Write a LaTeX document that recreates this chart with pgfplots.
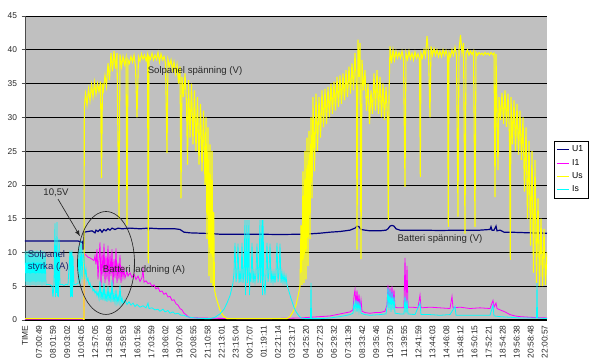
\documentclass[border=0pt]{standalone}
\usepackage{pgfplots}
\pgfplotsset{compat=1.18}
\usepackage{fontspec}
\setmainfont{Liberation Sans}
\definecolor{bgray}{RGB}{192,192,192}
\definecolor{cU}{RGB}{0,0,128}
\definecolor{cI}{RGB}{255,0,255}
\definecolor{cUs}{RGB}{255,255,0}
\definecolor{cIs}{RGB}{0,255,255}
\definecolor{txt}{RGB}{40,40,40}
\definecolor{styrk}{RGB}{30,40,110}
\begin{document}
\begin{tikzpicture}
\useasboundingbox (-18.75pt,-30pt) rectangle (431.25pt,240pt);
\begin{axis}[
 at={(0pt,0pt)}, anchor=south west,
 scale only axis, width=391.5pt, height=228pt,
 xmin=25, xmax=547, ymin=0, ymax=45,
 axis background/.style={fill=bgray},
 axis x line*=bottom, axis y line*=left,
 axis line style={-},
 x axis line style={line width=1.6pt, black},
 y axis line style={black!70, line width=0.5pt},
 ytick={0,5,...,45},
 ymajorgrids, grid style={black, line width=0.5pt},
 xtick={25,39.05,53.1,67.15,81.2,95.25,109.3,123.35,137.4,151.45,165.5,179.55,193.6,207.65,221.7,235.75,249.8,263.85,277.9,291.95,306,320.05,334.1,348.15,362.2,376.25,390.3,404.35,418.4,432.45,446.5,460.55,474.6,488.65,502.7,516.75,530.8,544.85},
 xticklabels={TIME,07:00:49,08:01:59,09:03:02,10:04:05,12:57:05,13:58:09,14:59:53,16:01:56,17:03:59,18:06:02,19:07:06,20:08:55,21:10:58,22:13:01,23:15:04,00:17:07,01:19:11,02:21:14,03:23:17,04:25:20,05:27:23,06:29:32,07:31:39,08:33:42,09:35:46,10:37:50,11:39:55,12:41:59,13:44:03,14:46:08,15:48:12,16:50:15,17:52:21,18:54:28,19:56:38,20:58:48,22:00:57},
 xtick style={draw=none},
 ytick style={black!70, line width=0.5pt},
 tick align=outside, major tick length=2.5pt,
 ticklabel style={font=\fontsize{6.3}{7}\selectfont, text=txt},
 /pgf/number format/assume math mode=true,
 xticklabel style={rotate=90, anchor=east, inner sep=1.5pt},
 legend style={at={(1.0134,0.589)}, anchor=north west, draw=black, fill=white,
   font=\fontsize{6.5}{7.5}\selectfont, inner sep=1.5pt, row sep=0pt,
   /tikz/every even column/.append style={column sep=1pt}},
 legend image code/.code={\draw[#1] (0pt,0pt) -- (9pt,0pt);},
 legend cell align=left,
]
\addplot[cU, line width=0.9pt] coordinates {
(25,11.7) (78,11.7) (80,11.6) (82,11.5) (82.8,11.6) (83,10.4) (83.3,11.8) (83.5,10.5) (84,13.0) (88,13.1) (92,13.2) (95,12.9) (96,13.3) (98,13.1) (100,13.4) (102,13.0) (104,13.4) (106,13.2) (108,13.5) (110,13.3) (112,13.6) (115,13.4) (118,13.6) (122,13.5) (130,13.6) (140,13.5) (148,13.6) (148.5,13.3) (149,13.6) (160,13.5) (175,13.5) (180,13.4) (184,13.0) (190,12.9) (200,12.85) (210,12.8) (220,12.7) (240,12.7) (260,12.7) (280,12.65) (300,12.7) (310,12.75) (320,12.85) (330,13.0) (340,13.1) (350,13.3) (355,13.6) (357,13.9) (359,13.8) (361,13.4) (365,13.3) (370,13.2) (380,13.2) (386,13.3) (388,13.5) (390,13.9) (392,14.0) (394,13.9) (396,13.5) (400,13.3) (420,13.3) (440,13.25) (460,13.3) (480,13.3) (490,13.4) (491,13.8) (492,13.3) (494,13.3) (496,13.9) (497,13.2) (500,13.3) (504,13.0) (510,13.0) (520,12.95) (530,12.9) (547,12.85)
};
\addplot[cI, line width=0.6pt] coordinates {
(25,0.05) (84,0.05) (84.5,9.8) (86,9.6) (88,9.3) (90,9.2) (92,9.0) (94,8.8) (95,9.5) (96,8.2) (97,10.5) (98,6) (99,9) (100,11.5) (101,5) (102,10) (103,6.5) (104,11.3) (105,5.5) (106,9.5) (107,6) (108,11) (109,5.2) (110,9.8) (111,6.5) (112,10.5) (113,5) (114,9) (115,6.2) (116,10.6) (117,5.5) (118,8.5) (119,6) (120,9.6) (121,5.5) (122,8) (123,6.3) (124,7.5) (125,6.2) (127,7.2) (128,6.5) (130,7) (132,6.3) (134,6.8) (136,6) (138,6.5) (140,5.7) (142,6.3) (143,7.5) (144,5.6) (146,5.8) (148,5.4) (150,5.5) (152,5.0) (154,5.2) (156,4.6) (158,4.8) (160,4.2) (162,4.3) (164,3.8) (166,4.0) (168,3.4) (170,3.5) (172,2.9) (174,3.0) (176,2.4) (178,2.2) (180,1.7) (182,1.5) (184,1.0) (186,0.8) (188,0.5) (190,0.35) (200,0.3) (215,0.25) (240,0.2) (270,0.2) (300,0.3) (320,0.5) (330,0.6) (340,0.9) (350,1.2) (353,1.5) (354,3.5) (355,4.5) (356,2) (357,4.4) (358,2) (359,3.8) (360,1.8) (361,3) (362,1.3) (365,1.1) (370,1.0) (375,1.1) (380,1.1) (385,1.3) (387,2.2) (388,5.2) (389,2.3) (390,4.8) (391,2.5) (392,5) (393,2.4) (394,4.5) (395,1.9) (398,1.8) (404,1.8) (405,9.2) (406,2) (407,8) (408,1.9) (412,1.9) (418,1.8) (420,3.7) (421,1.8) (430,1.9) (440,1.8) (450,1.7) (452,3.5) (453,1.8) (460,1.9) (470,1.7) (480,1.8) (490,1.7) (493,2.9) (494,1.9) (496,2.5) (497,1.7) (500,1.5) (505,1.2) (510,0.8) (515,0.6) (520,0.5) (530,0.4) (547,0.3)
};
\addplot[cUs, line width=0.8pt] coordinates {
(25,0.2) (83.5,0.2) (84,0) (84.3,31.5) (85.5,33.5) (87,31.8) (88.5,34.2) (90,32.5) (91.5,34.8) (93,33) (94.5,35.2) (96,33.4) (97.5,35) (99,33.8) (100.5,35.3) (101.5,21) (102.5,35) (103.5,34) (105,36.2) (106.5,34.6) (108,38) (109.5,35.5) (111,39.5) (112.5,36.8) (114,39.8) (115.5,37.2) (117,39.5) (118,26) (119,15) (120,39.3) (121.5,37.5) (123,39) (124.5,37.8) (126,38.8) (127,14) (128,38.5) (129.5,38) (131,39) (132.5,38.2) (134,39.2) (135.5,37.5) (137,30) (138.5,39) (140,38.3) (141.5,39.4) (143,38.6) (144.5,39.2) (146,38.4) (147.5,39.3) (148.3,8.4) (149,39) (150.5,38.6) (152,39.5) (153.5,38.5) (155,39.2) (156.5,38.6) (158,39.6) (159.5,38.2) (161,39.4) (162.5,38.5) (164,39) (165.5,38) (167,24.7) (168,38.6) (169.5,37.6) (171,38.5) (172.5,37) (174,38.2) (175.5,36.5) (177,37.8) (178.5,35) (180,37.5) (181,18) (182,36) (183.5,33) (185,36.5) (186.5,32) (187.5,23) (188.5,35.5) (190,27) (191.5,35) (193,26) (194.5,34) (196,25) (197.5,33) (199,23) (200.5,32) (202,22) (203.5,31) (205,20) (206,30) (207,12) (208,28.5) (209,6.5) (210,26) (211,5.5) (212,25) (213,5) (213.7,16) (214.5,4.5) (216,3.4) (218,2.4) (220,1.5) (222,0.9) (224,0.5) (227,0.2) (287,0.2) (290,0.5) (293,1.2) (296,2.2) (298,3.5) (300,5) (301,14) (302,5.2) (303,22) (304,5.5) (305,25) (306,6) (307,27) (308,8) (309,28) (310,12) (311,30) (312,18) (313,33) (314.5,22) (316,33.5) (317.5,25) (319,33) (320.5,27) (322,34) (323.5,28.5) (325,34.2) (326.5,29) (328,34.5) (329.5,30) (331,35) (332.5,30.5) (334,35.3) (335.5,31) (337,36) (338.5,31.5) (340,36.2) (341.5,32) (343,36.5) (344.5,32.5) (346,37) (347.5,33) (349,37.5) (350.5,33.5) (352,38) (353.5,34) (355,39.5) (356.5,34.5) (357,10.4) (358,41.5) (359,36) (360,41) (361,9) (362,38.5) (363.5,34) (365,37) (366.5,31) (368,35) (369.5,29) (371,34) (372.5,30.5) (374,36.5) (375.5,31) (377,37) (378.5,30.5) (380,36) (381.5,30) (383,35) (384.5,29.6) (386,34.5) (387.5,30) (388.3,14.8) (389,33) (390,40.5) (391.5,38) (393,40) (394.5,38.5) (396,39.8) (397.5,38.8) (399,39.6) (400.5,38.8) (402,39.8) (403.5,38.6) (405,19.7) (406,39.5) (407.5,38.6) (409,39.8) (410.5,38.7) (412,39.5) (413.5,38.5) (415,39.7) (416.5,38.8) (418,39.4) (419.5,38.6) (420.3,21.2) (421,39.5) (422.5,38.8) (424,40) (425.5,39) (427,42) (428.5,39.5) (430,30) (431,40.5) (432.5,39.2) (434,40.2) (435.5,39.2) (437,40) (438.5,39) (440,39.8) (441.5,39) (443,40) (444.5,39.2) (446,39.9) (447.5,39) (448.3,13.8) (449,39.6) (450.5,39) (452,40) (453.5,39.2) (455,40.4) (456.5,39.2) (458,15.3) (459,40) (460.5,42.2) (462,39.5) (463.5,41) (465,12.8) (466,39.5) (467.5,40) (469,39.2) (470.5,39.8) (472,39.3) (473.5,39.8) (475,13.8) (476,39.6) (477.5,39.2) (479,39.6) (480.5,39.3) (482,39.5) (483.5,39.2) (485,39.6) (486.5,39.3) (488,39.5) (489.5,39.2) (491,39.6) (492.5,39.3) (494,39.5) (495,18.2) (496,39.4) (497,31) (498,22.2) (499,33) (500.5,29.6) (502,33.6) (503.5,29) (505,34) (506.5,28.6) (508,33.5) (509.5,27) (510.3,8.9) (511,33) (512.5,26) (514,32.5) (515.5,25) (517,32) (518.5,24.5) (520,31) (521.5,23.7) (523,30) (524.5,19) (526,28.5) (527.5,15) (529,26.5) (530.5,11) (532,25) (533.5,7) (535,23.7) (536.5,5.5) (538,18) (539.5,5) (541,15) (542.5,5) (544,13.5) (545.5,5.2) (547,10)
};
\addplot[cIs, line width=0.6pt] coordinates {
(25,10.2) (26,5.2) (27,10.2) (28,5.2) (29,10.3) (30,5.1) (31,10.2) (32,5.2) (33,10.3) (34,5.2) (35,10.2) (36,5.1) (37,10.3) (38,5.2) (39,10.2) (40,5.2) (41,10.3) (42,5.1) (43,10.2) (44,5.2) (45,10) (46,5.2) (48,5.3) (50,5.2) (52,5.0) (53,3.4) (54,5.3) (55,14.3) (55.5,3.4) (56,11) (56.5,4) (57,14.5) (57.5,3.5) (58,10) (58.5,3.4) (59,12) (60,5.2) (62,5.3) (64,5.1) (66,5.3) (68,5.2) (70,10.3) (70.5,3.4) (71,10) (71.5,3.5) (72,10.3) (72.5,3.4) (73,9.5) (74,5.2) (76,5.3) (78,5.4) (79,11) (80,5) (81,11.8) (82,6) (83,10) (84,9.2) (85,6.5) (86,7.5) (87,5.8) (88,6.2) (89,5.2) (90,5.5) (91,4.8) (92,5) (93,4.3) (94,4.6) (95,4) (96,4.3) (97,3.6) (98,4.1) (99,3.2) (100,5.8) (101,3) (102,4.3) (103,2.9) (104,5.5) (105,2.8) (106,4) (107,2.7) (108,5) (109,2.8) (110,4.2) (111,2.6) (112,5.9) (113,2.7) (114,3.8) (115,2.6) (116,4.5) (117,2.5) (118,3.5) (119,2.6) (120,5.2) (121,2.5) (122,3.3) (123,2.4) (125,3) (127,2.3) (129,2.7) (131,2.2) (133,2.5) (135,2.0) (137,2.3) (140,1.9) (143,2.1) (146,1.8) (148,2.5) (149,1.7) (152,1.8) (155,1.5) (158,1.6) (160,1.3) (163,1.6) (165,1.2) (168,1.4) (170,1.0) (173,1.2) (175,0.9) (178,1.0) (181,0.7) (184,0.7) (187,0.5) (190,0.4) (195,0.3) (205,0.2) (210,0.2) (215,0.4) (220,0.9) (224,1.6) (227,2.5) (230,3.6) (232,4.8) (233,5.5) (234,7) (235,11.4) (236,5.6) (237,7) (238,11.3) (239,5.5) (240,7) (241,5.6) (242,11.4) (243,5.5) (244,7) (245,14.8) (245.5,3.7) (246,7) (247,14.8) (247.5,5.5) (248,7) (249,14.8) (249.5,3.7) (250,7) (251,5.6) (252,11.4) (253,5.5) (254,7) (255,5.6) (256,7) (257,11.3) (258,5.5) (259,7) (260,14.8) (260.5,5.5) (261,7) (262,14.8) (262.5,3.7) (263,14.8) (264,5.5) (265,3.7) (266,7) (267,11.4) (268,5.6) (269,7) (270,11.3) (271,5.5) (272,7) (273,5.6) (274,7) (275,5.5) (276,7) (277,11.4) (278,5.6) (279,7) (280,11.3) (281,5.5) (282,7) (283,5.6) (284,6.8) (285,5.5) (286,6.5) (287,5.2) (289,4.2) (291,3.2) (293,2.3) (295,1.5) (297,1) (299,0.6) (301,0.3) (305,0.2) (310.5,0.2) (311,5.5) (311.5,0.2) (320,0.2) (330,0.3) (340,0.5) (350,0.8) (353,1) (354,2.5) (355,1.5) (356,3) (357,1.2) (358,2.8) (359,1.3) (360,2.5) (361,1) (365,0.8) (370,0.7) (380,0.8) (386,0.9) (387,2) (388,4.8) (389,1.5) (390,4.5) (391,1.2) (392,4.2) (393,1.5) (394,3.5) (395,1) (400,0.9) (404,0.9) (405,3.5) (406,1) (407,3) (408,0.9) (415,0.8) (420,2.5) (421,0.8) (430,0.8) (440,0.7) (450,0.8) (455,2) (456,0.7) (470,0.7) (480,0.7) (490,0.7) (493,2.2) (494,0.6) (500,0.5) (510,0.4) (520,0.3) (530,0.3) (536.5,0.3) (537,5.5) (537.5,0.3) (547,0.2)
};
\legend{U1,I1,Us,Is}
\node[font=\fontsize{7.2}{8}\selectfont, text=txt] at (axis cs:195,36.86) {Solpanel spänning (V)};
\node[font=\fontsize{7.2}{8}\selectfont, text=txt] at (axis cs:440,12.0) {Batteri spänning (V)};
\node[font=\fontsize{7.2}{8}\selectfont, text=txt] at (axis cs:144,7.4) {Batteri laddning (A)};
\node[font=\fontsize{7.2}{9}\selectfont, text=styrk, align=left, anchor=north west, inner sep=0pt] at (axis cs:27.5,10.3) {Solpanel\\styrka (A)};
\node[font=\fontsize{7.2}{8}\selectfont, text=txt] at (axis cs:56,18.8) {10,5V};
\draw[txt, line width=0.5pt, -latex] (axis cs:58,17.9) -- (axis cs:80,12.4);
\draw[txt, line width=0.5pt] (axis cs:106,8.44) ellipse [x radius=21.4pt, y radius=38.6pt];
\end{axis}
\end{tikzpicture}
\end{document}
